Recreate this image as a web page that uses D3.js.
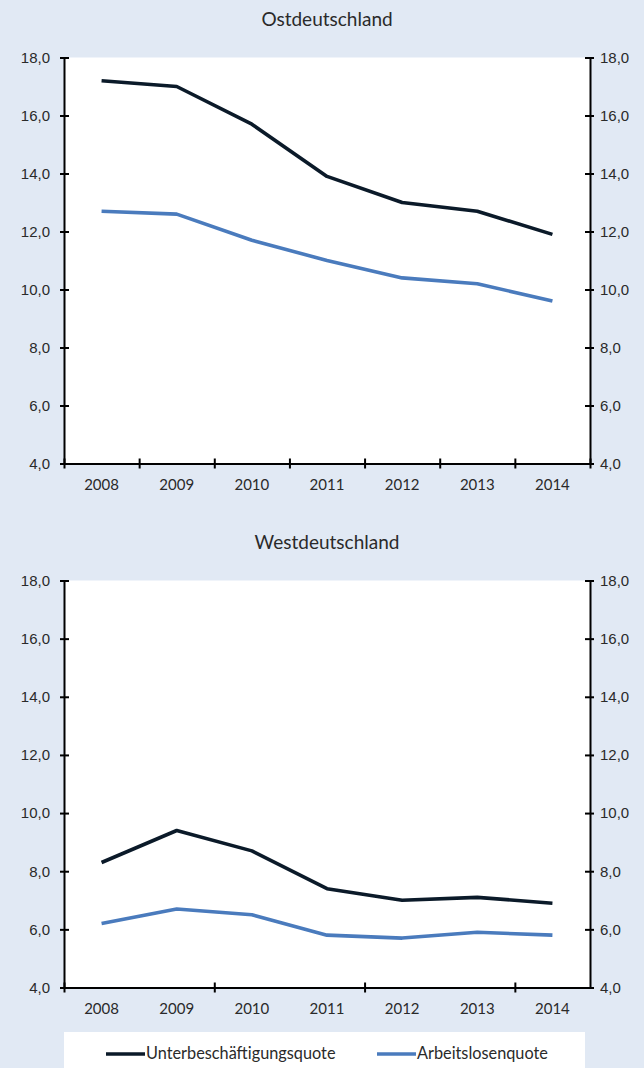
<!DOCTYPE html>
<html>
<head>
<meta charset="utf-8">
<script src="https://cdn.jsdelivr.net/npm/d3@7"></script>
<style>
  body { margin: 0; background: #e1e9f4; }
  svg { display: block; font-family: Lato, "Noto Sans", sans-serif; }
  .tick text { fill: #2a2a2a; font-size: 15px; }
  .domain, .tick line { stroke: #000; stroke-width: 2; }
</style>
</head>
<body>
<svg id="chart" width="644" height="1068"></svg>
<script>
// data
var years = ["2008", "2009", "2010", "2011", "2012", "2013", "2014"];
var ostUnter   = [17.2, 17.0, 15.7, 13.9, 13.0, 12.7, 11.9];
var ostArbeit  = [12.7, 12.6, 11.7, 11.0, 10.4, 10.2, 9.6];
var westUnter  = [8.3, 9.4, 8.7, 7.4, 7.0, 7.1, 6.9];
var westArbeit = [6.2, 6.7, 6.5, 5.8, 5.7, 5.9, 5.8];
var yTicks = [4, 6, 8, 10, 12, 14, 16, 18];
var seriesNames = ["Unterbeschäftigungsquote", "Arbeitslosenquote"];
var colors = ["#0b1a29", "#4a7bbd"];

var svg = d3.select("#chart"),
    left = 64, right = 590;

var fmt = function(d) { return d.toFixed(1).replace(".", ","); };

function panel(title, top, bottom, unter, arbeit, tickStep) {
    var g = svg.append("g");

    var x = d3.scaleBand().domain(years).range([left, right]);
    var xb = d3.scaleLinear().domain([0, years.length]).range([left, right]);
    var y = d3.scaleLinear().domain([4, 18]).range([bottom, top]);

    g.append("text")
        .attr("x", (left + right) / 2)
        .attr("y", top - 32)
        .attr("text-anchor", "middle")
        .attr("font-size", 19)
        .attr("fill", "#2a2a2a")
        .text(title);

    g.append("rect")
        .attr("x", left).attr("y", top)
        .attr("width", right - left).attr("height", bottom - top)
        .attr("fill", "#fff");

    var line = d3.line()
        .x(function(d, i) { return x(years[i]) + x.bandwidth() / 2; })
        .y(function(d) { return y(d); });

    [unter, arbeit].forEach(function(s, k) {
        g.append("path")
            .datum(s)
            .attr("d", line)
            .attr("fill", "none")
            .attr("stroke", colors[k])
            .attr("stroke-width", 3.6)
            .attr("stroke-linejoin", "round");
    });

    // left axis
    var ya = g.append("g")
        .attr("transform", "translate(" + left + ",0)")
        .call(d3.axisLeft(y).tickValues(yTicks).tickFormat(fmt).tickSize(4).tickPadding(10));
    ya.selectAll(".tick line").attr("x2", 5).attr("x1", -4);

    // right axis
    var yb = g.append("g")
        .attr("transform", "translate(" + right + ",0)")
        .call(d3.axisRight(y).tickValues(yTicks).tickFormat(fmt).tickSize(4).tickPadding(6));
    yb.selectAll(".tick line").attr("x1", -5).attr("x2", 4);

    // bottom axis: ticks on category boundaries
    var bounds = d3.range(0, years.length + 1, tickStep);
    var xa = g.append("g")
        .attr("transform", "translate(0," + bottom + ")")
        .call(d3.axisBottom(xb).tickValues(bounds).tickFormat("").tickSize(5).tickSizeOuter(0));
    xa.selectAll(".tick line").attr("y1", -5);

    g.append("g")
        .selectAll("text")
        .data(years)
        .enter().append("text")
        .attr("x", function(d) { return x(d) + x.bandwidth() / 2; })
        .attr("y", bottom + 26)
        .attr("text-anchor", "middle")
        .attr("font-size", 15)
        .attr("fill", "#2a2a2a")
        .text(function(d) { return d; });
}

panel("Ostdeutschland", 57.5, 463.5, ostUnter, ostArbeit, 1);
panel("Westdeutschland", 580.5, 987.5, westUnter, westArbeit, 2);

/********** Legend **********/
var legend = svg.append("g");
legend.append("rect")
    .attr("x", 64).attr("y", 1032)
    .attr("width", 521).attr("height", 40)
    .attr("fill", "#fff");

var legendX = [106, 377];
seriesNames.forEach(function(name, k) {
    legend.append("line")
        .attr("x1", legendX[k]).attr("x2", legendX[k] + 39)
        .attr("y1", 1054).attr("y2", 1054)
        .attr("stroke", colors[k])
        .attr("stroke-width", 3.6);
    legend.append("text")
        .attr("x", legendX[k] + 40)
        .attr("y", 1059)
        .attr("font-size", 16.3)
        .attr("fill", "#2a2a2a")
        .text(name);
});
</script>
</body>
</html>
